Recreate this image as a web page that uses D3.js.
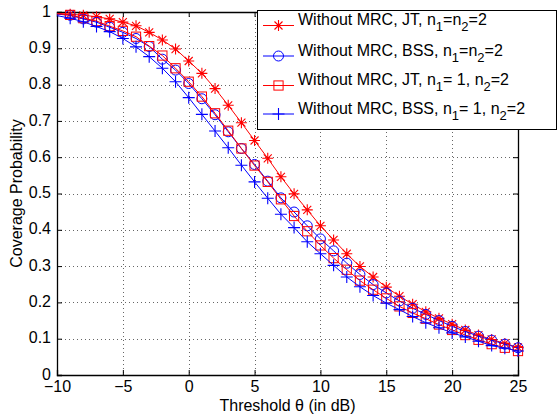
<!DOCTYPE html>
<html>
<head>
<meta charset="utf-8">
<script src="https://cdn.jsdelivr.net/npm/d3@7"></script>
<style>
  body { margin: 0; background: #fff; }
  svg { display: block; font-family: "Liberation Sans", Arial, Helvetica, sans-serif; }
</style>
</head>
<body>
<svg id="chart" width="559" height="414"></svg>
<script>
// ---- data ----
const thresholds = d3.range(-10, 26); // dB, -10..25
const markerStart = -9;
const jtBoth2 = [0.996,0.994,0.991,0.987,0.981,0.972,0.962,0.944,0.923,0.898,0.865,0.831,0.789,0.743,0.695,0.646,0.597,0.546,0.499,0.455,0.411,0.372,0.334,0.299,0.270,0.242,0.217,0.195,0.174,0.156,0.140,0.124,0.110,0.098,0.087,0.076];
const bssBoth2 = [0.994,0.991,0.981,0.972,0.958,0.944,0.927,0.905,0.870,0.840,0.803,0.761,0.717,0.670,0.624,0.580,0.534,0.488,0.449,0.411,0.375,0.342,0.308,0.277,0.249,0.226,0.204,0.184,0.167,0.150,0.134,0.120,0.107,0.096,0.085,0.075];
const jtN1 = [0.995,0.992,0.983,0.975,0.961,0.948,0.932,0.906,0.880,0.845,0.808,0.767,0.721,0.673,0.624,0.577,0.532,0.484,0.438,0.396,0.357,0.322,0.290,0.260,0.235,0.211,0.189,0.171,0.155,0.139,0.124,0.110,0.097,0.085,0.075,0.066];
const bssN1 = [0.990,0.983,0.973,0.960,0.946,0.927,0.904,0.877,0.845,0.808,0.764,0.718,0.672,0.626,0.578,0.532,0.487,0.443,0.406,0.367,0.334,0.302,0.270,0.243,0.219,0.198,0.180,0.161,0.144,0.130,0.116,0.105,0.093,0.081,0.074,0.066];
const xTicks = [-10,-5,0,5,10,15,20,25];
const yTicks = [0,0.1,0.2,0.3,0.4,0.5,0.6,0.7,0.8,0.9,1];
const xTitle = "Threshold \u03b8 (in dB)";
const yTitle = "Coverage Probability";

const series = [
  { name: "Without MRC, JT, ", sub: ["n","1","=n","2","=2"], values: jtBoth2, color: "#ff0000", marker: "star" },
  { name: "Without MRC, BSS, ", sub: ["n","1","=n","2","=2"], values: bssBoth2, color: "#0000ff", marker: "circle" },
  { name: "Without MRC, JT, ", sub: ["n","1","= 1, n","2","=2"], values: jtN1, color: "#ff0000", marker: "square" },
  { name: "Without MRC, BSS, ", sub: ["n","1","= 1, n","2","=2"], values: bssN1, color: "#0000ff", marker: "plus" }
];

// ---- layout ----
const svg = d3.select("#chart");
const L = 57, R = 518, T = 12, B = 375;
const x = d3.scaleLinear().domain([-10, 25]).range([L, R]);
const y = d3.scaleLinear().domain([0, 1]).range([B, T]);

// grid
const grid = svg.append("g");
grid.selectAll(".gx").data(xTicks.slice(1, -1)).enter().append("line")
  .attr("x1", d => Math.round(x(d)) + 0.5).attr("x2", d => Math.round(x(d)) + 0.5)
  .attr("y1", T).attr("y2", B)
  .attr("stroke", "#666").attr("stroke-width", 1).attr("stroke-dasharray", "1,3");
grid.selectAll(".gy").data(yTicks.slice(1, -1)).enter().append("line")
  .attr("y1", d => Math.round(y(d)) + 0.5).attr("y2", d => Math.round(y(d)) + 0.5)
  .attr("x1", L).attr("x2", R)
  .attr("stroke", "#666").attr("stroke-width", 1).attr("stroke-dasharray", "1,3");

// axes (inward ticks, MATLAB style)
const fmtY = d => d === 0 ? "0" : d === 1 ? "1" : d3.format(".1f")(d);
const fmtX = d => d < 0 ? "\u2212" + Math.abs(d) : String(d);
const axB = svg.append("g").attr("transform", `translate(0,${B})`)
  .call(d3.axisBottom(x).tickValues(xTicks).tickSize(-5).tickPadding(6).tickFormat(fmtX));
const axL = svg.append("g").attr("transform", `translate(${L},0)`)
  .call(d3.axisLeft(y).tickValues(yTicks).tickSize(-5).tickPadding(6).tickFormat(fmtY));
const axT = svg.append("g").attr("transform", `translate(0,${T})`)
  .call(d3.axisTop(x).tickValues(xTicks).tickSize(-5).tickFormat(""));
const axR = svg.append("g").attr("transform", `translate(${R},0)`)
  .call(d3.axisRight(y).tickValues(yTicks).tickSize(-5).tickFormat(""));
[axB, axL, axT, axR].forEach(a => {
  a.selectAll("path").attr("stroke", "#000").attr("stroke-width", 1.3);
  a.selectAll("line").attr("stroke", "#000");
  a.selectAll("text").attr("fill", "#000").style("font-size", "16px").style("font-family", "'Liberation Sans', Arial, sans-serif");
});
axL.selectAll("text").attr("dy", "0.26em");

// titles
svg.append("text").attr("x", (L + R) / 2).attr("y", 410.5).attr("text-anchor", "middle")
  .style("font-size", "16px").text(xTitle);
svg.append("text").attr("transform", `translate(22,${(T + B) / 2}) rotate(-90)`)
  .attr("text-anchor", "middle").style("font-size", "16px").text(yTitle);

// marker drawing
function drawMarker(g, type, color) {
  if (type === "circle") {
    g.append("circle").attr("r", 5).attr("fill", "none").attr("stroke", color).attr("stroke-width", 1);
  } else if (type === "square") {
    g.append("rect").attr("x", -4.6).attr("y", -4.6).attr("width", 9.2).attr("height", 9.2)
      .attr("fill", "none").attr("stroke", color).attr("stroke-width", 1);
  } else if (type === "plus") {
    g.append("path").attr("d", "M-6,0H6M0,-6V6").attr("stroke", color).attr("stroke-width", 1.1).attr("fill", "none");
  } else if (type === "star") {
    g.append("path").attr("d", "M-5.5,0H5.5M0,-5.5V5.5M-4,-4L4,4M-4,4L4,-4")
      .attr("stroke", color).attr("stroke-width", 1.1).attr("fill", "none");
  }
}

// series
const line = d3.line().x(d => x(d[0])).y(d => y(d[1]));
series.forEach(s => {
  const pts = thresholds.map((t, i) => [t, s.values[i]]);
  svg.append("path").datum(pts).attr("d", line).attr("fill", "none")
    .attr("stroke", s.color).attr("stroke-width", 1);
  pts.filter(p => p[0] >= markerStart).forEach(p => {
    const g = svg.append("g").attr("transform", `translate(${x(p[0])},${y(p[1])})`);
    drawMarker(g, s.marker, s.color);
  });
});

// legend
const lg = svg.append("g");
lg.append("rect").attr("x", 257.5).attr("y", 10.5).attr("width", 299).attr("height", 119)
  .attr("fill", "#fff").attr("stroke", "#000").attr("stroke-width", 1);
const rowY = [25.5, 56, 85.5, 114];
series.forEach((s, i) => {
  const cy = rowY[i];
  lg.append("line").attr("x1", 263).attr("x2", 294).attr("y1", cy).attr("y2", cy)
    .attr("stroke", s.color).attr("stroke-width", 1);
  const mg = lg.append("g").attr("transform", `translate(278.5,${cy})`);
  drawMarker(mg, s.marker, s.color);
  const t = lg.append("text").attr("x", 298).attr("y", cy - 0.5).style("font-size", "16px");
  t.append("tspan").text(s.name);
  s.sub.forEach((part, k) => {
    if (k % 2 === 1) {
      t.append("tspan").attr("dy", 6).style("font-size", "13px").text(part);
    } else {
      const ts = t.append("tspan").text(part);
      if (k > 0) ts.attr("dy", -6);
    }
  });
});
</script>
</body>
</html>
